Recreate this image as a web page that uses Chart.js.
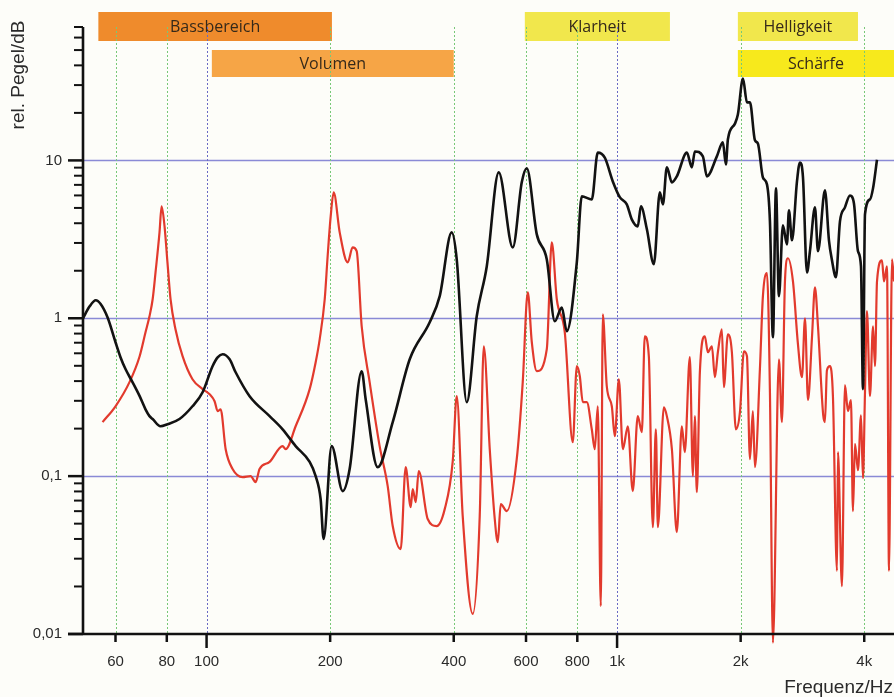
<!DOCTYPE html>
<html>
<head>
<meta charset="utf-8">
<script src="https://cdn.jsdelivr.net/npm/chart.js@4.4.1/dist/chart.umd.min.js"></script>
<style>
  html, body { margin: 0; padding: 0; background: #fdfdf9; }
  #wrap { width: 894px; height: 697px; }
</style>
</head>
<body>
<div id="wrap"><canvas id="c" width="894" height="697"></canvas></div>
<script>
// Reference response (black)
const blackHz = [50, 51.9, 53.7, 55.2, 57.4, 60, 61.7, 63.5, 66.0, 68.7, 71.0, 72.6, 73.9, 77.2, 80.3, 85.9, 92.4, 97.8,
  103.4, 106.4, 109.4, 113.8, 117.7, 127.3,
  142.4, 153.2, 164.8, 178.3, 184.4, 189.6, 192.8, 201.7, 214.6, 223.1, 238.7, 244.1, 261.1, 284.1, 312.5, 349.6,
  369.8, 395.5, 406.8, 430.3, 455.1, 481.4, 514.9, 557.1, 585.9, 602.6, 637.4, 674.2, 705.1, 733.4, 754.2, 797.8,
  820.4, 867.7, 897.4, 933.4, 976.3, 1016, 1056, 1086, 1123, 1143, 1182, 1229, 1271, 1293, 1322, 1360, 1398,
  1479, 1521, 1547, 1618, 1655, 1750, 1810, 1841, 1862, 1937, 1969, 2026, 2072, 2107, 2167, 2203, 2266, 2318,
  2357, 2397, 2438, 2479, 2535, 2593, 2622, 2667, 2743, 2789, 2837, 2901, 2950, 3034, 3086, 3209, 3282, 3338,
  3413, 3491, 3590, 3693, 3776, 3862, 3928, 3972, 4017, 4131, 4202, 4297];
const blackLevel = [1.00, 1.19, 1.30, 1.23, 1.01, 0.705, 0.567, 0.475, 0.394, 0.321, 0.265, 0.240, 0.230, 0.207, 0.213, 0.230, 0.277, 0.340,
  0.497, 0.566, 0.592, 0.550, 0.455, 0.321,
  0.240, 0.198, 0.155, 0.123, 0.100, 0.0715, 0.040, 0.155, 0.0804, 0.111, 0.462, 0.307, 0.114, 0.220, 0.550, 0.943,
  1.38, 3.50, 2.36, 0.294, 1.03, 2.13, 8.40, 2.81, 7.26, 8.90, 3.40, 2.36, 0.957, 1.17, 0.827, 2.26,
  5.92, 5.66, 11.2, 10.4, 7.36, 5.83, 5.27, 4.23, 3.82, 5.12, 3.66, 2.20, 6.27, 5.27, 9.03, 7.26, 7.92,
  11.2, 9.03, 11.4, 10.6, 7.92, 10.6, 13.0, 9.44, 13.6, 17.1, 19.5, 33.0, 23.3, 23.3, 13.4, 12.8, 7.80, 7.05,
  4.11, 0.758, 6.65, 1.38, 3.88, 2.94, 4.83, 3.12, 7.36, 9.71, 7.80, 1.95, 2.66, 5.04, 2.66, 6.46, 3.12, 2.33,
  1.82, 4.11, 5.04, 6.00, 5.34, 2.66, 2.13, 0.356, 4.55, 5.66, 6.65, 10.1];

// Measured response (red)
const redHz = [55.8, 60, 64.9, 68.7, 71.0, 72.6, 73.9, 75.1, 76.8, 77.7, 79.0, 80.3, 81.7, 84.0, 87.4, 92.4, 97.8,
  101.7, 104.6, 106.4, 108.2,
  111.3, 115.7, 122.4, 128.0, 131.7, 134.6, 142.4, 153.2, 155.8, 164.8, 178.3, 184.4, 188.6, 194.0, 197.2, 200.6, 204.0, 211.0, 220.7,
  226.9, 232.1, 238.7, 249.6, 264.0, 276.2, 284.1, 297.1, 305.5, 314.2, 317.8, 323.2, 328.7, 345.7, 363.6, 380.3,
  397.8, 406.8, 420.7, 445.0, 462.8, 473.4, 489.6, 503.5, 512.1, 520.8, 538.6, 569.6, 589.1, 606.0, 619.8, 637.4,
  674.2, 693.3, 713.1, 745.8, 780.0, 797.8, 811.3, 825.1, 843.8, 867.7, 882.4, 897.4, 912.7, 923.0, 943.9, 970.9,
  987.3, 1010, 1033, 1062, 1092, 1123, 1149, 1168, 1195, 1222, 1243, 1257, 1300, 1322, 1360, 1398, 1438, 1462,
  1504, 1530, 1547, 1564, 1591, 1636, 1664, 1702, 1731, 1760, 1800, 1820, 1862, 1904, 1947, 1992, 2037, 2072,
  2107, 2142, 2167, 2228, 2266, 2318, 2357, 2397, 2479, 2521, 2564, 2608, 2682, 2758, 2821, 2869, 2918, 2984,
  3034, 3086, 3178, 3209, 3245, 3300, 3356, 3433, 3452, 3530, 3590, 3651, 3713, 3755, 3798, 3862, 3928, 3972,
  4017, 4062, 4131, 4202, 4249, 4297, 4419, 4469, 4545, 4596, 4674, 4727];
const redLevel = [0.22, 0.277, 0.394, 0.575, 0.815, 1.03, 1.32, 1.95, 3.50, 5.12, 3.82, 2.26, 1.32, 0.852, 0.575, 0.411, 0.356,
  0.330, 0.298, 0.258, 0.265,
  0.148, 0.111, 0.0986, 0.100, 0.0916, 0.111, 0.123, 0.155, 0.148, 0.207, 0.356, 0.527, 0.736, 1.32, 2.47, 4.42, 6.27, 3.50, 2.26,
  2.81, 2.66, 0.89, 0.394, 0.155, 0.0865, 0.0483, 0.0345, 0.114, 0.0637, 0.0828, 0.0685, 0.1076, 0.0535, 0.0483, 0.0618,
  0.1245, 0.321, 0.0558, 0.0134, 0.0558, 0.665, 0.148, 0.0535, 0.0382, 0.0665, 0.060, 0.128, 0.394, 1.46, 0.705, 0.462,
  0.637, 3.03, 1.32, 0.815, 0.164, 0.497, 0.430, 0.294, 0.294, 0.198, 0.148, 0.277, 0.0150, 1.06, 0.371, 0.277,
  0.179, 0.411, 0.148, 0.207, 0.0804, 0.240, 0.190, 0.769, 0.575, 0.0475, 0.198, 0.0475, 0.273, 0.240, 0.148, 0.0442, 0.207, 0.142,
  0.567, 0.100, 0.240, 0.0792, 0.455, 0.769, 0.609, 0.665, 0.423, 0.609, 0.852, 0.366, 0.792, 0.609, 0.198, 0.254, 0.618, 0.575,
  0.128, 0.258, 0.114, 0.475, 1.38, 1.93, 0.340, 0.0088, 0.550, 0.220, 1.71, 2.40, 1.71, 0.685, 0.423, 1.00, 0.303, 0.758,
  1.57, 0.89, 0.243, 0.220, 0.469, 0.497, 0.321, 0.0251, 0.142, 0.0201, 0.377, 0.258, 0.303, 0.060, 0.160, 0.109, 0.243, 0.097,
  0.340, 1.11, 0.321, 0.89, 0.497, 1.71, 2.33, 1.71, 2.13, 0.0251, 2.36, 1.71];

// Axis ticks
const xTickHz = [60, 80, 100, 200, 400, 600, 800, 1000, 2000, 4000];
const xTickLabels = ['60', '80', '100', '200', '400', '600', '800', '1k', '2k', '4k'];
const yTickValues = [0.01, 0.1, 1, 10];
const yTickLabels = ['0,01', '0,1', '1', '10'];

// Frequency bands shown above the plot
const bandNames = ['Bassbereich', 'Volumen', 'Klarheit', 'Helligkeit', 'Schärfe'];
const bandFromHz = [54.5, 103, 596, 1969, 1969];
const bandToHz = [202, 400, 1345, 3862, 4727];

const BG = '#fdfdf9';
const bandStyle = [
  { row: 0, color: '#ef8b2c' },
  { row: 1, color: '#f6a546' },
  { row: 0, color: '#f1e74c' },
  { row: 0, color: '#f1e74c' },
  { row: 1, color: '#f7e91c' }
];

function toPoints(xs, ys) { return xs.map((v, i) => ({ x: v, y: ys[i] })); }

const decor = {
  id: 'decor',
  beforeDraw(chart) {
    const { ctx, chartArea: a } = chart;
    const x = chart.scales.x, y = chart.scales.y;
    ctx.save();
    ctx.fillStyle = BG;
    ctx.fillRect(0, 0, chart.width, chart.height);

    // bands
    const rows = [[a.top - 15, 29], [a.top + 23, 27]];
    bandNames.forEach((name, i) => {
      const x0 = x.getPixelForValue(bandFromHz[i]);
      const x1 = Math.min(x.getPixelForValue(bandToHz[i]), chart.width);
      const [top, h] = rows[bandStyle[i].row];
      ctx.fillStyle = bandStyle[i].color;
      ctx.fillRect(x0, top, x1 - x0, h);
      ctx.fillStyle = '#35291a';
      ctx.font = '16px "Open Sans"';
      ctx.textAlign = 'center';
      ctx.textBaseline = 'middle';
      ctx.fillText(name, (x0 + x1) / 2, top + h / 2 + 1);
    });

    // horizontal grid
    ctx.strokeStyle = '#8a8ad6';
    ctx.lineWidth = 1.4;
    ctx.setLineDash([]);
    yTickValues.slice(1).forEach(v => {
      const py = Math.round(y.getPixelForValue(v)) + 0.5;
      ctx.beginPath(); ctx.moveTo(a.left, py); ctx.lineTo(a.right, py); ctx.stroke();
    });

    // vertical grid: decades blue, others green, dotted
    ctx.lineWidth = 1;
    ctx.setLineDash([2, 2]);
    xTickHz.forEach(f => {
      const px = Math.round(x.getPixelForValue(f)) + 0.5;
      const decade = Math.abs(Math.log10(f) - Math.round(Math.log10(f))) < 1e-9;
      ctx.strokeStyle = decade ? '#6a6ac4' : '#78c878';
      ctx.beginPath(); ctx.moveTo(px, a.top); ctx.lineTo(px, a.bottom); ctx.stroke();
    });
    ctx.restore();
  },
  afterDatasetsDraw(chart) {
    const { ctx, chartArea: a } = chart;
    const x = chart.scales.x, y = chart.scales.y;
    ctx.save();
    ctx.setLineDash([]);
    ctx.strokeStyle = '#111';
    ctx.lineCap = 'butt';

    // y axis minor ticks
    ctx.lineWidth = 2;
    for (let e = -2; e <= 1; e++) {
      for (let m = 2; m <= 9; m++) {
        const v = m * Math.pow(10, e);
        if (v > y.max + 1e-9) break;
        const py = y.getPixelForValue(v);
        ctx.beginPath(); ctx.moveTo(a.left - 9, py); ctx.lineTo(a.left, py); ctx.stroke();
      }
    }
    // y axis major ticks + labels
    ctx.lineWidth = 2.5;
    ctx.fillStyle = '#2a2a2a';
    ctx.font = '15px "Liberation Sans"';
    ctx.textAlign = 'right';
    ctx.textBaseline = 'middle';
    yTickValues.forEach((v, i) => {
      const py = y.getPixelForValue(v);
      ctx.beginPath(); ctx.moveTo(a.left - 15, py); ctx.lineTo(a.left, py); ctx.stroke();
      ctx.fillText(yTickLabels[i], a.left - 21, py);
    });

    // axis lines
    ctx.lineWidth = 2.6;
    ctx.beginPath();
    ctx.moveTo(a.left, a.top); ctx.lineTo(a.left, a.bottom);
    ctx.moveTo(a.left - 15, a.bottom); ctx.lineTo(a.right, a.bottom);
    ctx.stroke();

    // x ticks + labels
    ctx.textAlign = 'center';
    ctx.textBaseline = 'middle';
    xTickHz.forEach((f, i) => {
      const px = x.getPixelForValue(f);
      const decade = Math.abs(Math.log10(f) - Math.round(Math.log10(f))) < 1e-9;
      ctx.lineWidth = 2.5;
      ctx.beginPath(); ctx.moveTo(px, a.bottom); ctx.lineTo(px, a.bottom + (decade ? 14 : 8)); ctx.stroke();
      ctx.fillText(xTickLabels[i], px, a.bottom + 28);
    });

    // axis titles
    ctx.font = '19px "Liberation Sans"';
    ctx.textAlign = 'right';
    ctx.textBaseline = 'middle';
    ctx.fillText('Frequenz/Hz', chart.width - 1, 688);

    ctx.save();
    ctx.translate(19, 75);
    ctx.rotate(-Math.PI / 2);
    ctx.textAlign = 'center';
    ctx.font = '19px "Liberation Sans"';
    ctx.fillText('rel. Pegel/dB', 0, 0);
    ctx.restore();

    ctx.restore();
  }
};

new Chart(document.getElementById('c'), {
  type: 'line',
  data: {
    datasets: [
      {
        label: 'Referenz',
        data: toPoints(blackHz, blackLevel),
        borderColor: '#121212',
        borderWidth: 2.6,
        pointRadius: 0,
        cubicInterpolationMode: 'monotone',
        fill: false
      },
      {
        label: 'Messung',
        data: toPoints(redHz, redLevel),
        borderColor: '#e23a2d',
        borderWidth: 2.2,
        pointRadius: 0,
        cubicInterpolationMode: 'monotone',
        fill: false,
        clip: { left: 0, top: 0, right: 0, bottom: 10 }
      }
    ]
  },
  options: {
    responsive: false,
    devicePixelRatio: 1,
    animation: false,
    events: [],
    layout: { padding: { left: 83, top: 27, right: 0, bottom: 63 } },
    plugins: { legend: { display: false }, tooltip: { enabled: false } },
    scales: {
      x: { type: 'logarithmic', min: 50, max: 4727, bounds: 'data', display: false },
      y: { type: 'logarithmic', min: 0.01, max: 70, bounds: 'data', display: false }
    }
  },
  plugins: [decor]
});
</script>
</body>
</html>
